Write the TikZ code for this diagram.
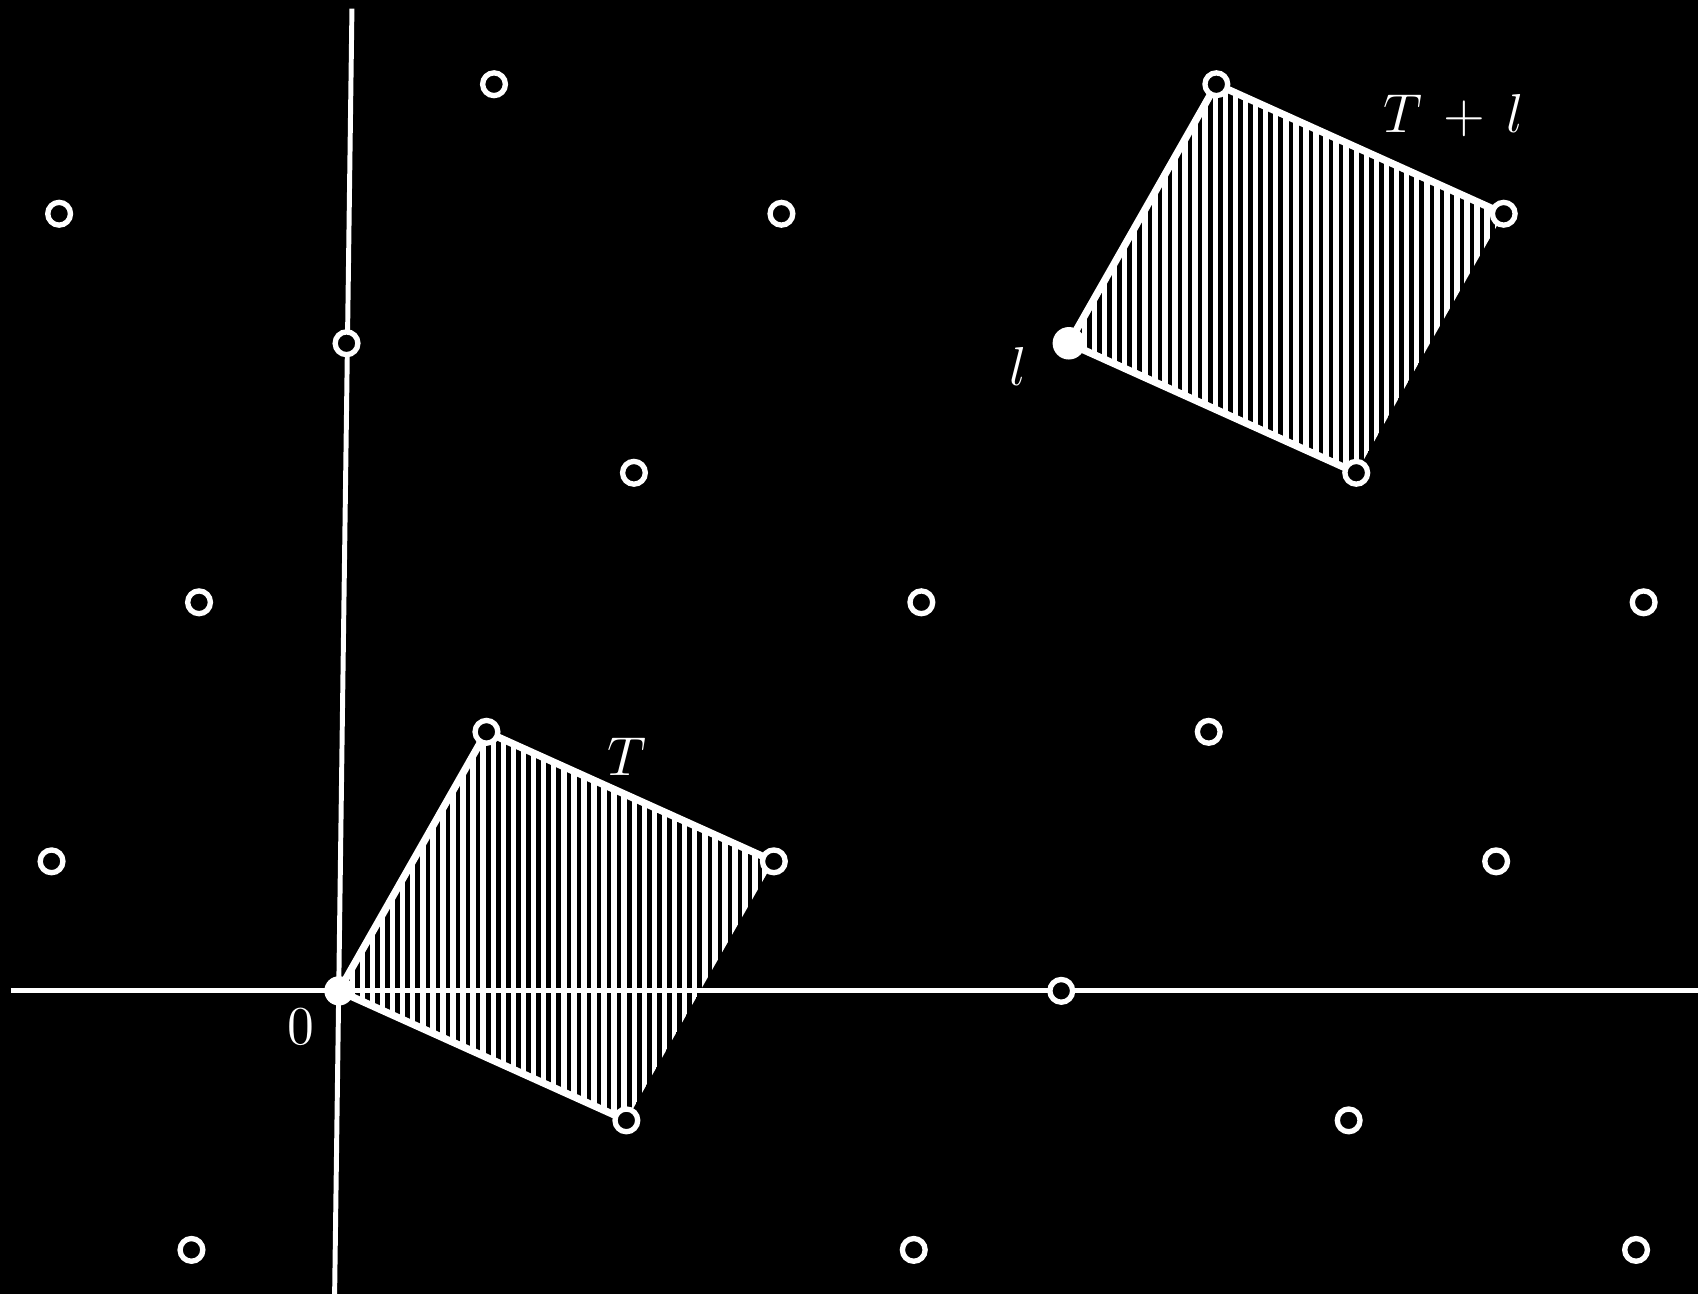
\documentclass[tikz,border=0pt]{standalone}
\usetikzlibrary{positioning}

\begin{document}
\begin{tikzpicture}[
        lattice/.style={circle, draw=white, fill=black, line width=1.4pt,
                        minimum size=2.1mm, inner sep=0pt},
        dot/.style={circle, fill=white, minimum size=2.7mm, inner sep=0pt},
        edge/.style={white, line width=1.9pt, line cap=round},
        axis/.style={white, line width=1.3pt},
        hatch/.style={white, line width=1.45pt},
        lbl/.style={text=white, font=\fontsize{14}{16}\selectfont}
    ]
        \fill[black] (0,0) rectangle (15.68,11.95);
        \useasboundingbox (0,0) rectangle (15.68,11.95);

        % axes
        \coordinate (xl) at (0.10,2.80);
        \coordinate (xr) at (15.68,2.80);
        \coordinate (yb) at (3.09,0);
        \coordinate (yt) at (3.25,11.87);
        \draw[axis] (xl) -- (xr);
        \draw[axis] (yb) -- (yt);

        % lattice points a*v1 + b*v2
        \begin{scope}[shift={(3.13,2.80)}, x={(2.654cm,-1.196cm)}, y={(1.362cm,2.392cm)}]
            \foreach \a/\b in {-1/3, -2/2, 0/3, -1/2, 0/2, -1/1, 1/2, 3/3, 2/2, -1/0,
                               3/2, 2/1, 3/1, 0/-1, 2/0, 4/1, 0/0, 1/0, 0/1, 1/1,
                               1/3, 2/3, 1/4, 2/4}
                \coordinate (p\a\b) at (\a,\b);
        \end{scope}

        % hatching of T
        \begin{scope}
            \clip (p00) -- (p10) -- (p11) -- (p01) -- cycle;
            \foreach \x in {3.16,3.253,...,7.2}
                \draw[hatch] (\x,1.4) -- (\x,5.4);
        \end{scope}
        % hatching of T+l
        \begin{scope}
            \clip (p13) -- (p23) -- (p24) -- (p14) -- cycle;
            \foreach \x in {9.92,10.013,...,13.95}
                \draw[hatch] (\x,7.4) -- (\x,11.4);
        \end{scope}

        \draw[edge] (p10) -- (p00) -- (p01) -- (p11);
        \draw[edge] (p23) -- (p13) -- (p14) -- (p24);

        % circles
        \foreach \a/\b in {-1/3, -2/2, 0/3, -1/2, 0/2, -1/1, 1/2, 3/3, 2/2, -1/0,
                           3/2, 2/1, 3/1, 0/-1, 2/0, 4/1, 1/0, 0/1, 1/1,
                           2/3, 1/4, 2/4}
            \node[lattice] (n\a\b) at (p\a\b) {};
        \node[dot] (origin) at (p00) {};
        \node[dot, minimum size=3mm] (lpt) at (p13) {};

        % labels
        \node[lbl] (lblT) at (5.79,4.96) {$T$};
        \node[lbl] (lblTl) at (13.42,10.88) {$T\,+\,l$};
        \node[lbl] (lbll) at (9.40,8.57) {$l$};
        \node[lbl] (lbl0) at (2.78,2.47) {$0$};
    \end{tikzpicture}
\end{document}
